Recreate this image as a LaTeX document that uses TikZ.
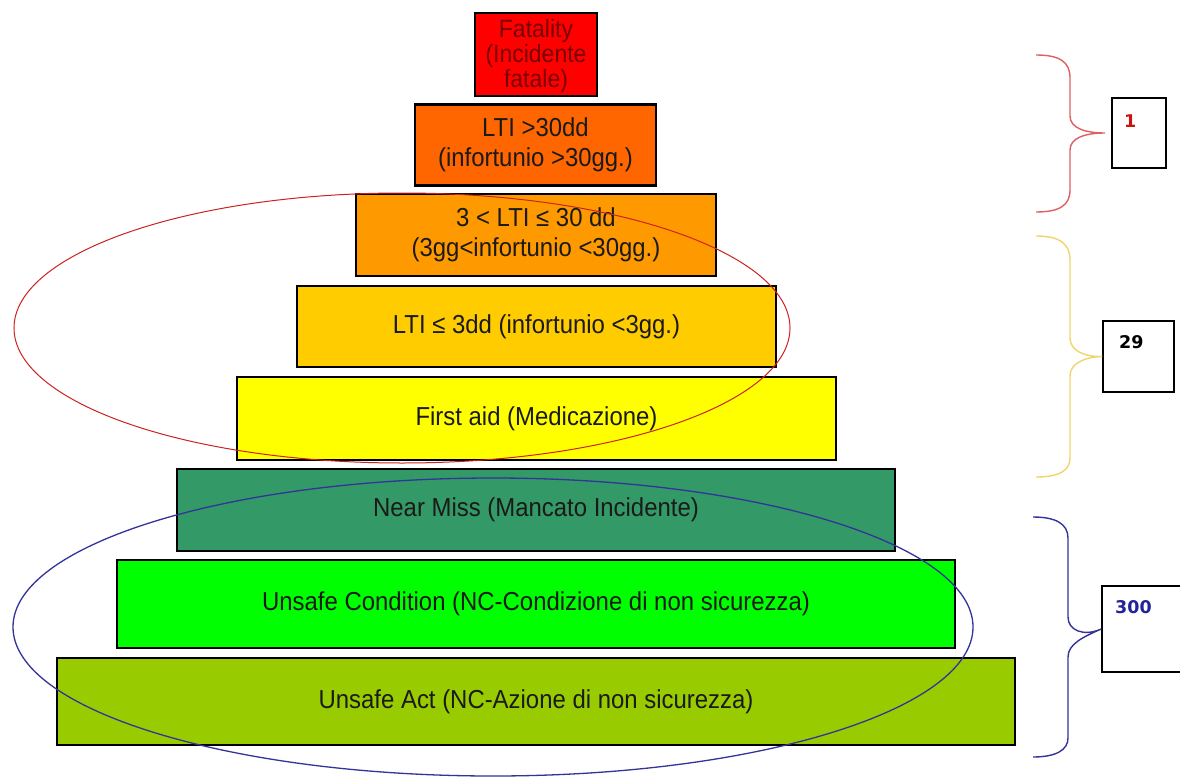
\documentclass[tikz,border=0pt]{standalone}
\usepackage{fontspec}
\setmainfont{Liberation Sans}[FakeStretch=0.92]
\newfontfamily\numfont{DejaVu Sans}
\usetikzlibrary{shapes.geometric}
\definecolor{cFat}{HTML}{FF0000}
\definecolor{cLtiA}{HTML}{FF6600}
\definecolor{cLtiB}{HTML}{FF9900}
\definecolor{cLtiC}{HTML}{FFCC00}
\definecolor{cFirst}{HTML}{FFFF00}
\definecolor{cNear}{HTML}{339966}
\definecolor{cCond}{HTML}{00FF00}
\definecolor{cAct}{HTML}{99CC00}
\definecolor{fatText}{HTML}{7A0000}
\definecolor{tierText}{HTML}{1A1A1A}
\definecolor{redLine}{HTML}{CC2222}
\definecolor{redBrace}{HTML}{E06060}
\definecolor{yelBrace}{HTML}{F2D56A}
\definecolor{bluLine}{HTML}{333399}
\definecolor{numRed}{HTML}{CC1111}
\definecolor{numBlue}{HTML}{222299}
\begin{document}
\begin{tikzpicture}[x=1pt,y=-1pt,
  tier/.style={draw=black, line width=2.5pt, inner sep=0pt, align=center,
    text=tierText, font=\fontsize{26}{30}\selectfont},
  countbox/.style={draw=black, line width=1.5pt, inner sep=0pt, fill=white},
  countlabel/.style={anchor=base west, inner sep=0pt, font=\numfont\bfseries\fontsize{17.5}{20}\selectfont},
  bracepath/.style={line width=1.4pt},
  ring/.style={ellipse, inner sep=0pt}]
\useasboundingbox (0,0) rectangle (1180,776);
\clip (0,0) rectangle (1180,776);
\fill[white] (0,0) rectangle (1180,776);

% pyramid tiers
\node[fill=cFat, inner sep=0pt, minimum width=122pt, minimum height=83pt] (fat) at (536,54.5) {};
\begin{scope}
\clip (fat.north west) rectangle (fat.south east);
\node[inner sep=0pt, align=center, text=fatText, font=\fontsize{25}{25}\selectfont] (fattxt) at (536,56) {Fatality\\(Incidente\\fatale)};
\end{scope}
\draw[line width=2.5pt] (fat.north west) rectangle (fat.south east);

\node[tier, fill=cLtiA, minimum width=241pt, minimum height=81pt] (ltiA) at (535.5,145) {LTI >30dd\\(infortunio >30gg.)};
\node[tier, fill=cLtiB, minimum width=360pt, minimum height=82pt] (ltiB) at (536,235) {3 < LTI ≤ 30 dd\\(3gg<infortunio <30gg.)};
\node[tier, fill=cLtiC, minimum width=479pt, minimum height=81pt] (ltiC) at (536.5,326.5) {LTI ≤ 3dd (infortunio <3gg.)};
\node[tier, fill=cFirst, minimum width=599pt, minimum height=83pt] (first) at (536.5,418.5) {First aid (Medicazione)};
\node[tier, fill=cNear, minimum width=718pt, minimum height=82pt] (near) at (536,510) {Near Miss (Mancato Incidente)};
\node[tier, fill=cCond, minimum width=838pt, minimum height=88pt] (cond) at (536,604) {Unsafe Condition (NC-Condizione di non sicurezza)};
\node[tier, fill=cAct, minimum width=958pt, minimum height=87pt] (act) at (536,701.5) {Unsafe Act (NC-Azione di non sicurezza)};

% grouping ellipses
\node[ring, draw=redLine, line width=1pt, minimum width=776pt, minimum height=270pt] (redring) at (402,328) {};
\node[ring, draw=bluLine, line width=1.3pt, minimum width=960pt, minimum height=298pt] (bluering) at (493,627) {};

% count boxes
\node[countbox, minimum width=54pt, minimum height=70pt] (boxA) at (1139,133) {};
\node[countlabel, text=numRed] (numA) at (1124,127) {1};
\node[countbox, minimum width=71pt, minimum height=71pt] (boxB) at (1138.5,356.5) {};
\node[countlabel, text=black] (numB) at (1119,348) {29};
\node[countbox, minimum width=93pt, minimum height=86pt] (boxC) at (1148.5,629) {};
\node[countlabel, text=numBlue] (numC) at (1115,613) {300};

% braces
\coordinate (tipA) at (1105,133);
\draw[bracepath, draw=redBrace] (1036,55) .. controls (1060,55) and (1070,62) .. (1070,78)
  -- (1070,116) .. controls (1070,128) and (1085,133) .. (tipA)
  .. controls (1085,133) and (1070,138) .. (1070,150)
  -- (1070,190) .. controls (1070,205) and (1060,212) .. (1036,212);
\draw[bracepath, draw=yelBrace] (1036,236) .. controls (1060,236) and (1070,244) .. (1070,260)
  -- (1070,338) .. controls (1070,351) and (1085,357) .. (boxB.west)
  .. controls (1085,357) and (1070,363) .. (1070,376)
  -- (1070,458) .. controls (1070,470) and (1060,477) .. (1036,477);
\draw[bracepath, draw=bluLine] (1033,517) .. controls (1056,517) and (1068,524) .. (1068,538)
  -- (1068,617) .. controls (1068,630) and (1083,637) .. (boxC.west)
  .. controls (1083,637) and (1068,644) .. (1068,657)
  -- (1068,738) .. controls (1068,750) and (1056,757) .. (1033,757);
\end{tikzpicture}
\end{document}
